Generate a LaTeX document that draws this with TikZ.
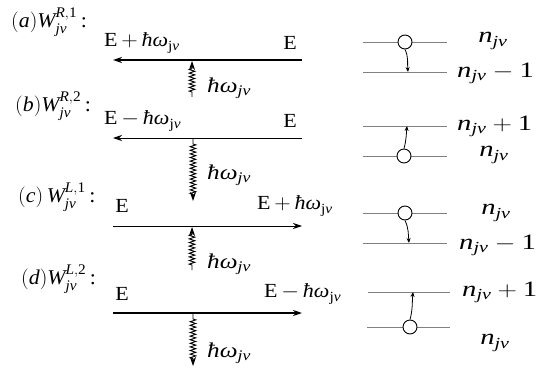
\documentclass[tikz,border=0pt]{standalone}
\usepackage{fontspec}
\setmainfont{Liberation Serif}
\usepackage{amsmath,amssymb,graphicx}
\usetikzlibrary{arrows.meta,positioning,decorations.pathmorphing}

% italic letters from the text font
\newcommand{\tm}[1]{\text{\itshape #1}}
\newcommand{\hw}{\tm{ħω}}
% wider set text
\newcommand{\elab}[1]{\scalebox{1.1}[1]{#1}}
\newcommand{\plab}[1]{\scalebox{1.2}[1]{#1}}
\newcommand{\wlab}[1]{\scalebox{1.04}[1]{#1}}
\newcommand{\nlab}[1]{\scalebox{1.3}[1]{#1}}

\tikzset{
  transfer/.style={->,line width=1.6pt},
  transferthin/.style={->,line width=0.9pt},
  phonon/.style={->,line width=0.9pt,decorate,
    decoration={zigzag,segment length=3.6pt,amplitude=2.8pt,pre length=5pt,post length=6pt}},
  level/.style={gray,line width=0.8pt},
  occ/.style={circle,draw,fill=white,line width=0.9pt,minimum size=14pt,inner sep=0pt},
  jump/.style={->,line width=0.8pt,>={Stealth[length=5pt,width=4pt]}},
  elabel/.style={font=\fontsize{20}{23}\selectfont,inner sep=0pt},
  wlabel/.style={font=\fontsize{21}{24}\selectfont,inner sep=0pt,anchor=west},
  plabel/.style={font=\fontsize{21}{24}\selectfont,inner sep=0pt,anchor=west},
  nlabel/.style={font=\fontsize{22}{25}\selectfont,inner sep=0pt}
}

\begin{document}
\begin{tikzpicture}[x=1pt,y=-1pt,>={Stealth[length=9pt,width=6pt]}]
\useasboundingbox (0,0) rectangle (540,377);

% (a) leftward, phonon absorbed
\node[wlabel] (a-w) at (11,22) {\wlab{$(\tm{a})\tm{W}_{\tm{jν}}^{\tm{R},\text{1}}$\,:}};
\node[elabel,anchor=west] (a-eh) at (104,43) {\elab{E$\,+\,\hw_{\text{j}\tm{ν}}$}};
\node[elabel] (a-e) at (290,43) {\elab{E}};
\coordinate (a-r) at (302,60);
\coordinate (a-l) at (113,60);
\coordinate (a-m) at (192,61);
\coordinate (a-low) at (192,97);
\draw[transfer] (a-r) -- (a-l);
\draw[phonon] (a-low) -- (a-m);
\node[plabel] (a-ph) at (207,88) {\plab{$\hw_{\tm{jν}}$}};

% (b) leftward, phonon emitted
\node[wlabel] (b-w) at (15,106) {\wlab{$(\tm{b})\tm{W}_{\tm{jν}}^{\tm{R},\text{2}}$\,:}};
\node[elabel,anchor=west] (b-eh) at (104,121) {\elab{E$\,-\,\hw_{\text{j}\tm{ν}}$}};
\node[elabel] (b-e) at (290,121) {\elab{E}};
\coordinate (b-r) at (302,138);
\coordinate (b-l) at (113,138);
\coordinate (b-m) at (193,139);
\coordinate (b-low) at (193,201);
\draw[transferthin] (b-r) -- (b-l);
\draw[phonon] (b-m) -- (b-low);
\node[plabel] (b-ph) at (207,175) {\plab{$\hw_{\tm{jν}}$}};

% (c) rightward, phonon absorbed
\node[wlabel] (c-w) at (18,197) {\wlab{$(\tm{c})\,\tm{W}_{\tm{jν}}^{\tm{L},\text{1}}$\,:}};
\node[elabel] (c-e) at (122,206) {\elab{E}};
\node[elabel,anchor=west] (c-eh) at (257,206) {\elab{E$\,+\,\hw_{\text{j}\tm{ν}}$}};
\coordinate (c-l) at (113,226);
\coordinate (c-r) at (302,226);
\coordinate (c-m) at (192,227);
\coordinate (c-low) at (192,270);
\draw[transferthin] (c-l) -- (c-r);
\draw[phonon] (c-low) -- (c-m);
\node[plabel] (c-ph) at (207,264) {\plab{$\hw_{\tm{jν}}$}};

% (d) rightward, phonon emitted
\node[wlabel] (d-w) at (21,279) {\wlab{$(\tm{d})\tm{W}_{\tm{jν}}^{\tm{L},\text{2}}$\,:}};
\node[elabel] (d-e) at (122,294) {\elab{E}};
\node[elabel,anchor=west] (d-eh) at (264,294) {\elab{E$\,-\,\hw_{\text{j}\tm{ν}}$}};
\coordinate (d-l) at (113,313);
\coordinate (d-r) at (302,313);
\coordinate (d-m) at (193,314);
\coordinate (d-low) at (193,366);
\draw[transfer] (d-l) -- (d-r);
\draw[phonon] (d-m) -- (d-low);
\node[plabel] (d-ph) at (207,353) {\plab{$\hw_{\tm{jν}}$}};

% occupation levels
\draw[level] (363,42) -- (447,42);
\draw[level] (363,72) -- (447,72);
\node[occ] (a-occ) at (405,42) {};
\coordinate (a-fin) at (408,72);
\draw[jump] (a-occ.south) to[out=-65,in=95] (a-fin);
\node[nlabel] (a-n0) at (493,41) {\nlab{$\tm{n}_{\tm{jν}}$}};
\node[nlabel,anchor=west] (a-n1) at (457,73) {\nlab{$\tm{n}_{\tm{jν}}-\text{1}$}};

\draw[level] (363,126) -- (447,126);
\draw[level] (363,156) -- (447,156);
\node[occ] (b-occ) at (404,156) {};
\coordinate (b-fin) at (407,126);
\draw[jump] (b-occ.north) to[out=75,in=-95] (b-fin);
\node[nlabel,anchor=west] (b-n1) at (457,126) {\nlab{$\tm{n}_{\tm{jν}}+\text{1}$}};
\node[nlabel] (b-n0) at (494,155) {\nlab{$\tm{n}_{\tm{jν}}$}};

\draw[level] (363,213) -- (447,213);
\draw[level] (363,243) -- (447,243);
\node[occ] (c-occ) at (405,213) {};
\coordinate (c-fin) at (409,243);
\draw[jump] (c-occ.south) to[out=-65,in=95] (c-fin);
\node[nlabel] (c-n0) at (496,213) {\nlab{$\tm{n}_{\tm{jν}}$}};
\node[nlabel,anchor=west] (c-n1) at (459,245) {\nlab{$\tm{n}_{\tm{jν}}-\text{1}$}};

\draw[level] (368,292) -- (450,292);
\draw[level] (367,327) -- (450,327);
\node[occ] (d-occ) at (410,327) {};
\coordinate (d-fin) at (413,292);
\draw[jump] (d-occ.north) to[out=75,in=-95] (d-fin);
\node[nlabel,anchor=west] (d-n1) at (462,292) {\nlab{$\tm{n}_{\tm{jν}}+\text{1}$}};
\node[nlabel] (d-n0) at (495,343) {\nlab{$\tm{n}_{\tm{jν}}$}};
\end{tikzpicture}
\end{document}
